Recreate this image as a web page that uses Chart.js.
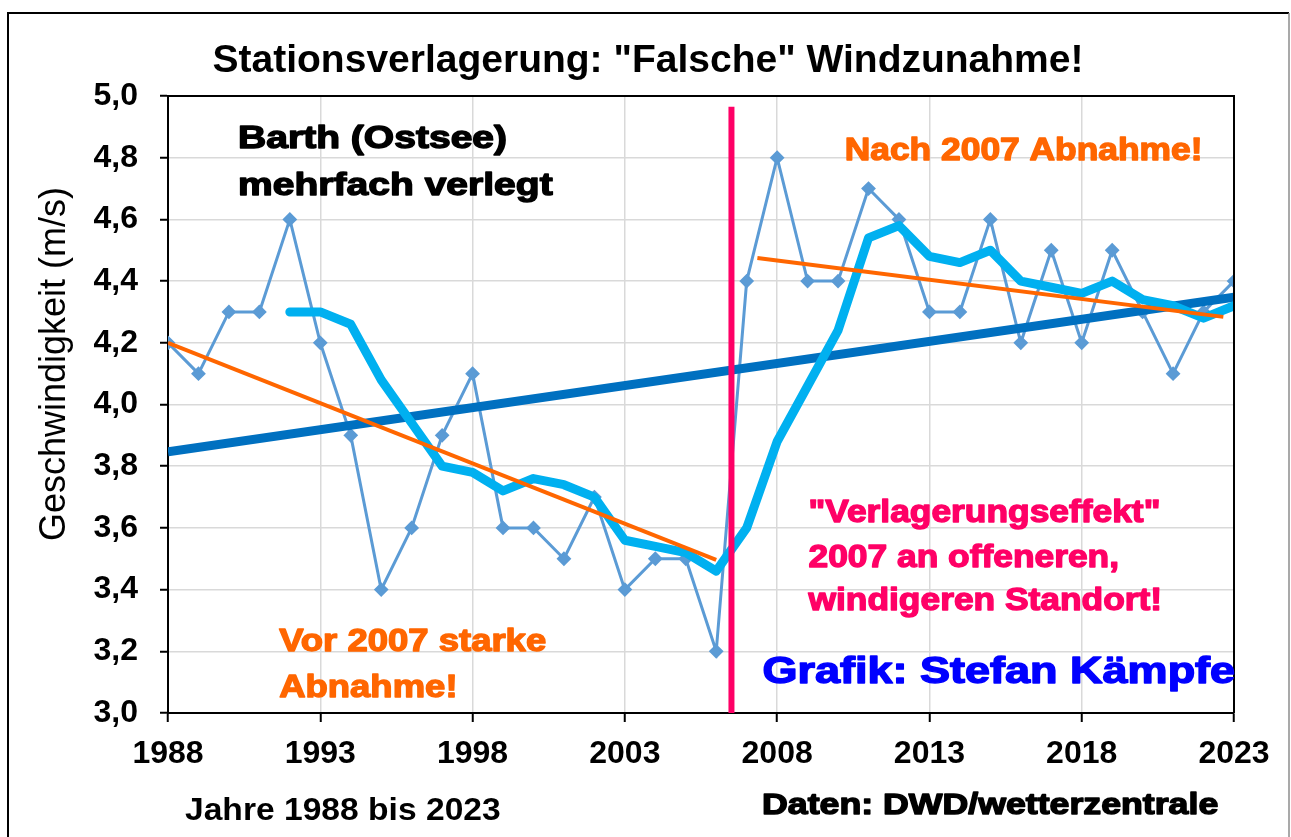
<!DOCTYPE html>
<html>
<head>
<meta charset="utf-8">
<script src="https://cdn.jsdelivr.net/npm/chart.js@4.4.1/dist/chart.umd.min.js"></script>
<style>
  html, body { margin: 0; padding: 0; background: #ffffff; }
  canvas { display: block; }
</style>
</head>
<body>
<canvas id="chart" width="1291" height="837"></canvas>
<script>
// Barth (Ostsee), mittlere Windgeschwindigkeit in m/s
const years = [1988, 1989, 1990, 1991, 1992, 1993, 1994, 1995, 1996, 1997, 1998, 1999,
  2000, 2001, 2002, 2003, 2004, 2005, 2006, 2007, 2008, 2009, 2010, 2011,
  2012, 2013, 2014, 2015, 2016, 2017, 2018, 2019, 2020, 2021, 2022, 2023];
const windSpeed = [4.2, 4.1, 4.3, 4.3, 4.6, 4.2, 3.9, 3.4, 3.6, 3.9, 4.1, 3.6,
  3.6, 3.5, 3.7, 3.4, 3.5, 3.5, 3.2, 4.4, 4.8, 4.4, 4.4, 4.7,
  4.6, 4.3, 4.3, 4.6, 4.2, 4.5, 4.2, 4.5, 4.3, 4.1, 4.3, 4.4];

// gleitendes Mittel, ab 1992
const avgYears = [1992, 1993, 1994, 1995, 1996, 1997, 1998, 1999, 2000, 2001, 2002, 2003,
  2004, 2005, 2006, 2007, 2008, 2009, 2010, 2011, 2012, 2013, 2014, 2015,
  2016, 2017, 2018, 2019, 2020, 2021, 2022, 2023];
const avgSpeed = [4.30, 4.30, 4.26, 4.08, 3.94, 3.80, 3.78, 3.72, 3.76, 3.74, 3.70, 3.56,
  3.54, 3.52, 3.46, 3.60, 3.88, 4.06, 4.24, 4.54, 4.58, 4.48, 4.46, 4.50,
  4.40, 4.38, 4.36, 4.40, 4.34, 4.32, 4.28, 4.32];

// Trendlinien (Anfang, Ende)
const trendAllX = [1988, 2023];
const trendAllY = [3.847, 4.348];
const trendBeforeX = [1988, 2006];
const trendBeforeY = [4.2, 3.496];
const trendAfterX = [2007.35, 2022.65];
const trendAfterY = [4.475, 4.284];

// Verlagerung der Station
const moveX = [2006.5, 2006.5];
const moveY = [3.0, 4.965];

const xTicks = [1988, 1993, 1998, 2003, 2008, 2013, 2018, 2023];
const yTicks = [3.0, 3.2, 3.4, 3.6, 3.8, 4.0, 4.2, 4.4, 4.6, 4.8, 5.0];

const FONT = '"Liberation Sans", Arial, sans-serif';

function pts(xs, ys) {
  return xs.map((x, i) => ({ x: x, y: ys[i] }));
}

// text notes inside the plot (positions in data units)
const notes = [
  { lines: ['Barth (Ostsee)', 'mehrfach verlegt'], x: 1990.3, y: [4.831, 4.679], color: '#000000', size: 32, stretch: 1.22 },
  { lines: ['Nach 2007 Abnahme!'], x: 2010.22, y: [4.793], color: '#ff6600', size: 32, stretch: 1.105 },
  { lines: ['Vor 2007 starke', 'Abnahme!'], x: 1991.65, y: [3.201, 3.052], color: '#ff6600', size: 32, stretch: 1.14 },
  { lines: ['"Verlagerungseffekt"', '2007 an offeneren,', 'windigeren Standort!'], x: 2009.03, y: [3.619, 3.473, 3.334], color: '#ff0066', size: 32, stretch: 1.105 },
  { lines: ['Grafik: Stefan Kämpfe'], x: 2007.52, y: [3.097], color: '#0000ff', size: 36, stretch: 1.25 }
];

function heavyText(ctx, text, x, y, size, color, stretch, heavy) {
  ctx.save();
  ctx.translate(x, y);
  ctx.scale(stretch, 1);
  ctx.font = 'bold ' + size + 'px ' + FONT;
  ctx.fillStyle = color;
  ctx.textAlign = 'left';
  ctx.textBaseline = 'alphabetic';
  ctx.fillText(text, 0, 0);
  if (heavy) {
    ctx.strokeStyle = color;
    ctx.lineWidth = 1.4;
    ctx.lineJoin = 'round';
    ctx.strokeText(text, 0, 0);
  }
  ctx.restore();
}

const decorations = {
  id: 'decorations',
  afterDraw(chart) {
    const ctx = chart.ctx;
    const a = chart.chartArea;
    const xs = chart.scales.x, ys = chart.scales.y;

    // plot frame top + right
    ctx.save();
    ctx.strokeStyle = '#000000';
    ctx.lineWidth = 2;
    ctx.beginPath();
    ctx.moveTo(a.left, a.top);
    ctx.lineTo(a.right, a.top);
    ctx.lineTo(a.right, a.bottom);
    ctx.stroke();

    // outer frame
    ctx.beginPath();
    ctx.moveTo(1289, 13);
    ctx.lineTo(8, 13);
    ctx.lineTo(8, 840);
    ctx.stroke();
    ctx.strokeStyle = '#8c8c8c';
    ctx.lineWidth = 1.5;
    ctx.beginPath();
    ctx.moveTo(1289, 13);
    ctx.lineTo(1289, 840);
    ctx.stroke();
    ctx.restore();

    // title
    ctx.save();
    ctx.font = 'bold 39px ' + FONT;
    ctx.fillStyle = '#000000';
    ctx.textAlign = 'center';
    ctx.textBaseline = 'alphabetic';
    ctx.fillText('Stationsverlagerung: "Falsche" Windzunahme!', 648, 72);
    ctx.restore();

    // y axis title
    ctx.save();
    ctx.translate(55, 364);
    ctx.rotate(-Math.PI / 2);
    ctx.font = '36px ' + FONT;
    ctx.fillStyle = '#000000';
    ctx.textAlign = 'center';
    ctx.textBaseline = 'middle';
    ctx.fillText('Geschwindigkeit (m/s)', 0, 0);
    ctx.restore();

    // bottom notes
    heavyText(ctx, 'Jahre 1988 bis 2023', 185, 820, 32, '#000000', 1.05, false);
    heavyText(ctx, 'Daten: DWD/wetterzentrale', 762, 814, 30, '#000000', 1.19, true);

    // notes in the plot
    notes.forEach(n => {
      const px = xs.getPixelForValue(n.x);
      n.lines.forEach((line, i) => {
        heavyText(ctx, line, px, ys.getPixelForValue(n.y[i]), n.size, n.color, n.stretch, true);
      });
    });
  }
};

new Chart(document.getElementById('chart'), {
  type: 'line',
  data: {
    datasets: [
      {
        label: 'Verlagerung',
        data: pts(moveX, moveY),
        borderColor: '#ff0066',
        borderWidth: 6,
        pointRadius: 0,
        order: 0
      },
      {
        label: 'Trend vor 2007',
        data: pts(trendBeforeX, trendBeforeY),
        borderColor: '#ff6600',
        borderWidth: 4,
        pointRadius: 0,
        order: 1
      },
      {
        label: 'Trend nach 2007',
        data: pts(trendAfterX, trendAfterY),
        borderColor: '#ff6600',
        borderWidth: 4,
        pointRadius: 0,
        order: 1
      },
      {
        label: 'Gleitendes Mittel',
        data: pts(avgYears, avgSpeed),
        borderColor: '#00b0f0',
        borderWidth: 9,
        borderCapStyle: 'round',
        borderJoinStyle: 'round',
        pointRadius: 0,
        order: 2
      },
      {
        label: 'Trend gesamt',
        data: pts(trendAllX, trendAllY),
        borderColor: '#0070c0',
        borderWidth: 9,
        pointRadius: 0,
        order: 3
      },
      {
        label: 'Windgeschwindigkeit',
        data: pts(years, windSpeed),
        borderColor: '#5b9bd5',
        borderWidth: 3,
        pointStyle: 'rectRot',
        pointRadius: 6,
        pointBorderWidth: 2,
        pointBackgroundColor: '#5b9bd5',
        pointBorderColor: '#5b9bd5',
        order: 4
      }
    ]
  },
  options: {
    responsive: false,
    animation: false,
    events: [],
    layout: { padding: { left: 0, right: 57, top: 96, bottom: 0 } },
    elements: { line: { tension: 0 } },
    plugins: {
      legend: { display: false },
      title: { display: false },
      tooltip: { enabled: false }
    },
    scales: {
      x: {
        type: 'linear',
        min: 1988,
        max: 2023,
        afterBuildTicks: s => { s.ticks = xTicks.map(v => ({ value: v })); },
        afterFit: s => { s.height = 124; },
        grid: { color: '#d9d9d9', lineWidth: 1.5, tickColor: '#000000', tickWidth: 2, tickLength: 9 },
        border: { color: '#000000', width: 2 },
        ticks: {
          color: '#000000',
          padding: 13,
          maxRotation: 0,
          autoSkip: false,
          font: { family: FONT, size: 32, weight: 'bold' },
          callback: v => String(v)
        }
      },
      y: {
        min: 3,
        max: 5,
        afterBuildTicks: s => { s.ticks = yTicks.map(v => ({ value: v })); },
        afterFit: s => { s.width = 168; },
        grid: { color: '#d9d9d9', lineWidth: 1.5, tickColor: '#000000', tickWidth: 2, tickLength: 8 },
        border: { color: '#000000', width: 2 },
        ticks: {
          color: '#000000',
          padding: 22,
          autoSkip: false,
          font: { family: FONT, size: 32, weight: 'bold' },
          callback: v => v.toFixed(1).replace('.', ',')
        }
      }
    }
  },
  plugins: [decorations]
});
</script>
</body>
</html>
